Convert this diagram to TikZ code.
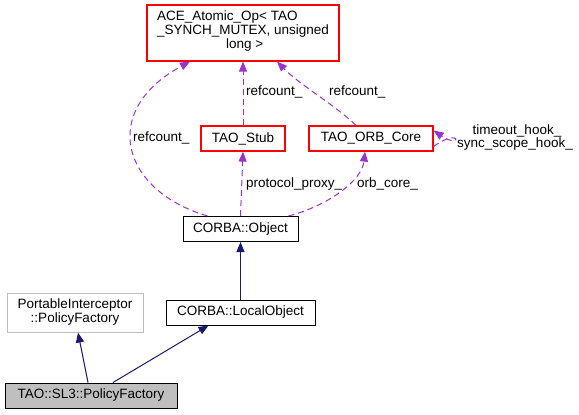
\documentclass[tikz,border=0pt]{standalone}
\usepackage{fontspec}
\setmainfont{Liberation Sans}
\usetikzlibrary{arrows.meta,calc}
\definecolor{depcol}{HTML}{9A32CD}
\definecolor{inhcol}{HTML}{191970}
\definecolor{redbox}{HTML}{FF0000}
\definecolor{graybox}{HTML}{BFBFBF}
\begin{document}
\begin{tikzpicture}[x=1pt,y=-1pt,
  every node/.style={font=\fontsize{13.5}{14}\selectfont, inner sep=0pt},
  box/.style={draw=black, line width=1pt, fill=white, align=center},
  redb/.style={draw=redbox, line width=1.2pt, fill=white, align=center},
  dep/.style={draw=depcol, dash pattern=on 6pt off 4pt, line width=1pt, -{Triangle[length=10pt,width=8pt,fill=depcol]}},
  inh/.style={draw=inhcol, line width=1pt, -{Triangle[length=10pt,width=8pt,fill=inhcol]}},
  lbl/.style={anchor=west}]
\useasboundingbox (0,0) rectangle (579,415);
\node[redb, minimum width=192pt, minimum height=56pt] (ace) at (243,33) {};
\node[align=left, anchor=north west] (acet) at (157,11) {ACE\_Atomic\_Op< TAO\\\_SYNCH\_MUTEX, unsigned\\\hspace*{69pt}long >};
\node[redb, minimum width=84pt, minimum height=25pt] (stub) at (243,138.5) {TAO\_Stub};
\node[redb, minimum width=124pt, minimum height=25pt] (orb) at (371,138.5) {TAO\_ORB\_Core};
\node[box, minimum width=115pt, minimum height=25pt] (obj) at (240.5,229) {CORBA::Object};
\node[box, minimum width=149pt, minimum height=25pt] (lobj) at (240.5,312.5) {CORBA::LocalObject};
\node[box, draw=graybox, minimum width=136pt, minimum height=39pt] (pi) at (75,312.5) {PortableInterceptor\\::PolicyFactory};
\node[box, fill=graybox, minimum width=172pt, minimum height=25pt] (sl3) at (91,395.5) {TAO::SL3::PolicyFactory};

\draw[dep] ([xshift=-33pt]obj.north) .. controls (120,190) and (100,110) .. ([xshift=-53pt]ace.south);
\node[lbl] (l1) at (133,138) {refcount\_};
\draw[dep] (stub.north) -- (ace.south);
\node[lbl] (l2) at (246,92) {refcount\_};
\draw[dep] ([xshift=-15pt]orb.north) .. controls (335,105) and (300,85) .. ([xshift=34pt]ace.south);
\node[lbl] (l3) at (329,92) {refcount\_};
\draw[dep] (obj.north) -- (stub.south);
\node[lbl] (l4) at (246,184) {protocol\_proxy\_};
\draw[dep] ([xshift=48pt]obj.north) .. controls (330,205) and (362,180) .. ([xshift=-6pt]orb.south);
\node[lbl] (l5) at (357,184) {orb\_core\_};
\draw[dep] ([yshift=-8pt]orb.east) .. controls (462,126) and (462,150) .. ([yshift=8pt]orb.east);
\node (l6) at (517,131) {timeout\_hook\_};
\node (l7) at (515,144) {sync\_scope\_hook\_};

\draw[inh] (lobj.north) -- (obj.south);
\draw[inh] ([xshift=-3pt]sl3.north) -- ([xshift=3pt]pi.south);
\draw[inh] ([xshift=22pt]sl3.north) -- ([xshift=-32pt]lobj.south);
\end{tikzpicture}
\end{document}
